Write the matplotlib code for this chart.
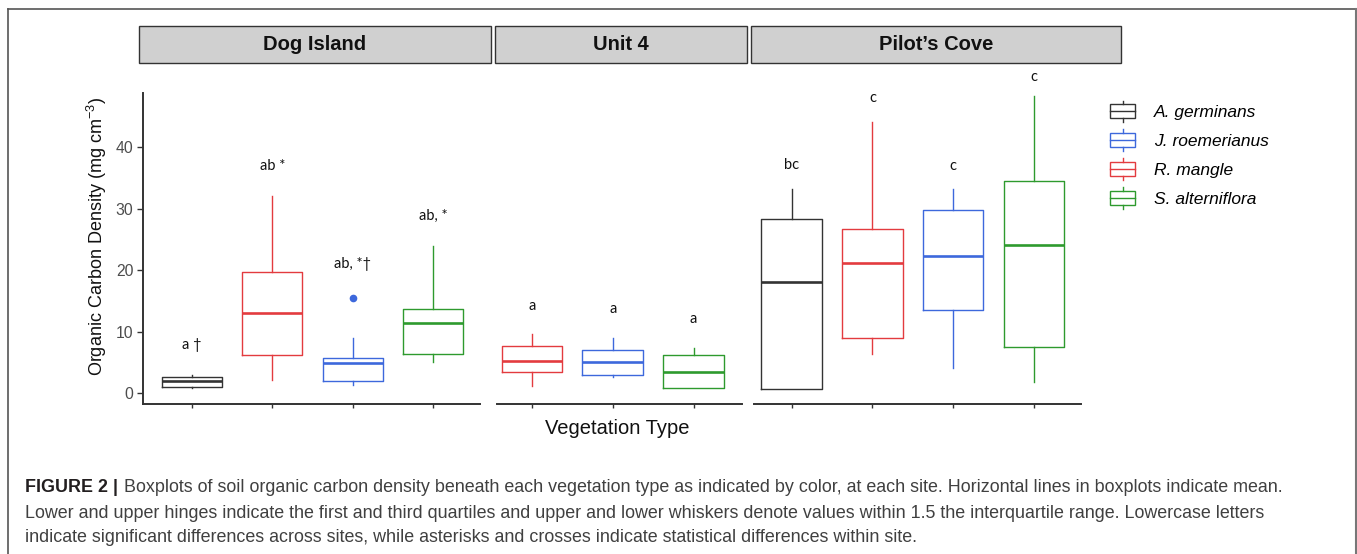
import matplotlib
matplotlib.use("Agg")
import matplotlib.pyplot as plt
from matplotlib.patches import Rectangle, Patch
from matplotlib.lines import Line2D
from matplotlib.legend_handler import HandlerBase
from matplotlib.text import Annotation

plt.rcParams["font.family"] = ["Liberation Sans", "DejaVu Sans"]
plt.rcParams["mathtext.fontset"] = "custom"
plt.rcParams["mathtext.rm"] = "Liberation Sans"
plt.rcParams["mathtext.it"] = "Liberation Sans:italic"

# ---------------- data (organic carbon density, mg cm^-3) ----------------
sites = ["Dog Island", "Unit 4", "Pilot\u2019s Cove"]
legend_species = ["A. germinans", "J. roemerianus", "R. mangle", "S. alterniflora"]
species_colors = ["#333333", "#3D68DC", "#E33B3F", "#2E9A2E"]

# Dog Island
di_species = ["A. germinans", "R. mangle", "J. roemerianus", "S. alterniflora"]
di_whislo = [0.84, 2.2, 1.38, 5.07]
di_q1 = [1.06, 6.2, 2.08, 6.42]
di_med = [1.98, 13.1, 5.0, 11.46]
di_q3 = [2.73, 19.8, 5.83, 13.7]
di_whishi = [3.0, 32.1, 8.97, 23.9]
di_fliers = [[], [], [15.5], []]
di_letters = ["a \u2020", "ab *", "ab, *\u2020", "ab, *"]
di_letter_y = [7.9, 37.0, 21.0, 28.9]

# Unit 4
u4_species = ["R. mangle", "J. roemerianus", "S. alterniflora"]
u4_whislo = [1.22, 2.63, 0.85]
u4_q1 = [3.5, 3.06, 0.85]
u4_med = [5.33, 5.12, 3.5]
u4_q3 = [7.67, 7.07, 6.21]
u4_whishi = [9.63, 8.97, 7.35]
u4_fliers = [[], [], []]
u4_letters = ["a", "a", "a"]
u4_letter_y = [14.2, 13.7, 12.1]

# Pilot's Cove
pc_species = ["A. germinans", "R. mangle", "J. roemerianus", "S. alterniflora"]
pc_whislo = [0.68, 6.42, 4.09, 1.82]
pc_q1 = [0.68, 8.97, 13.52, 7.5]
pc_med = [18.18, 21.27, 22.3, 24.2]
pc_q3 = [28.37, 26.75, 29.84, 34.6]
pc_whishi = [33.2, 44.2, 33.2, 48.37]
pc_fliers = [[], [], [], []]
pc_letters = ["bc", "c", "c", "c"]
pc_letter_y = [37.15, 48.0, 37.0, 51.4]

y_ticks = [0, 10, 20, 30, 40]

caption_head = "FIGURE 2 |"
caption_lines = [
    "Boxplots of soil organic carbon density beneath each vegetation type as indicated by color, at each site. Horizontal lines in boxplots indicate mean.",
    "Lower and upper hinges indicate the first and third quartiles and upper and lower whiskers denote values within 1.5 the interquartile range. Lowercase letters",
    "indicate significant differences across sites, while asterisks and crosses indicate statistical differences within site.",
]

# ---------------- figure layout (pixel helpers) ----------------
W, H = 1357, 554
fig = plt.figure(figsize=(W / 100, H / 100), dpi=100)
fig.patch.set_facecolor("white")


def fx(px):
    return px / W


def fy(py):
    return 1 - py / H


color_of = dict(zip(legend_species, species_colors))
AX_COL = "#333333"
Y_TOP, Y_BOT = 93, 403.5
YLIM = (-1.65, 48.85)

panels = [
    dict(x0=143, x1=480, xlim=(0.395, 4.58), species=di_species, lo=di_whislo, q1=di_q1,
         med=di_med, q3=di_q3, hi=di_whishi, fl=di_fliers, let=di_letters, ly=di_letter_y),
    dict(x0=497, x1=742, xlim=(0.567, 3.599), species=u4_species, lo=u4_whislo, q1=u4_q1,
         med=u4_med, q3=u4_q3, hi=u4_whishi, fl=u4_fliers, let=u4_letters, ly=u4_letter_y),
    dict(x0=754, x1=1081, xlim=(0.533, 4.583), species=pc_species, lo=pc_whislo, q1=pc_q1,
         med=pc_med, q3=pc_q3, hi=pc_whishi, fl=pc_fliers, let=pc_letters, ly=pc_letter_y),
]

for k, p in enumerate(panels):
    ax = fig.add_axes([fx(p["x0"]), fy(Y_BOT), fx(p["x1"]) - fx(p["x0"]), fy(Y_TOP) - fy(Y_BOT)])
    ax.set_facecolor("none")
    n = len(p["species"])
    pos = list(range(1, n + 1))
    stats = [dict(med=p["med"][i], q1=p["q1"][i], q3=p["q3"][i], whislo=p["lo"][i],
                  whishi=p["hi"][i], fliers=p["fl"][i]) for i in range(n)]
    bp = ax.bxp(stats, positions=pos, widths=0.75, showcaps=False, showfliers=True,
                boxprops=dict(lw=1.0), whiskerprops=dict(lw=1.0), medianprops=dict(lw=1.9),
                flierprops=dict(marker="o", markersize=5.5, markeredgewidth=0))
    for i, sp in enumerate(p["species"]):
        c = color_of[sp]
        bp["boxes"][i].set_color(c)
        bp["whiskers"][2 * i].set_color(c)
        bp["whiskers"][2 * i + 1].set_color(c)
        bp["medians"][i].set_color(c)
        bp["medians"][i].set_solid_capstyle("butt")
        bp["fliers"][i].set_markerfacecolor(c)
    for i in range(n):
        ax.text(pos[i], p["ly"][i], p["let"][i], ha="center", va="center", fontsize=10.5,
                family=["Lato", "DejaVu Sans"], color="#111111", clip_on=False)

    ax.set_xlim(*p["xlim"])
    ax.set_ylim(*YLIM)
    ax.set_xticks(pos)
    ax.set_xticklabels([])
    ax.tick_params(axis="x", length=3.2, width=1.0, color=AX_COL, direction="out")
    for s in ["top", "right"]:
        ax.spines[s].set_visible(False)
    ax.spines["bottom"].set_color(AX_COL)
    ax.spines["bottom"].set_linewidth(1.4)
    if k == 0:
        ax.spines["left"].set_color(AX_COL)
        ax.spines["left"].set_linewidth(1.4)
        ax.set_yticks(y_ticks)
        ax.set_yticklabels([str(v) for v in y_ticks])
        ax.tick_params(axis="y", length=4.0, width=1.0, color=AX_COL, pad=2.8,
                       labelsize=11.3, labelcolor="#4D4D4D")
    else:
        ax.spines["left"].set_visible(False)
        ax.set_yticks([])

# ---------------- strip headers ----------------
strips = [(138.5, 491), (495.5, 747), (751, 1120.5)]
for (sx0, sx1), name in zip(strips, sites):
    fig.add_artist(Rectangle((fx(sx0), fy(63.3)), fx(sx1) - fx(sx0), fy(26.5) - fy(63.3),
                             transform=fig.transFigure, facecolor="#D0D0D0",
                             edgecolor="#333333", lw=1.0))
    fig.text(fx((sx0 + sx1) / 2), fy(45), name, ha="center", va="center",
             fontsize=14.5, weight="bold", color="#111111")

# ---------------- axis titles ----------------
fig.text(fx(96.5), fy(236), "Organic Carbon Density (mg cm$^{-3}$)", rotation=90,
         ha="center", va="center", fontsize=13, color="#111111")
fig.text(fx(617), fy(434), "Vegetation Type", ha="center", va="baseline",
         fontsize=14.5, color="#111111")


# ---------------- legend with mini boxplot keys ----------------
class MiniBoxHandler(HandlerBase):
    def create_artists(self, legend, orig_handle, xdescent, ydescent, width, height,
                       fontsize, trans):
        c = orig_handle.get_edgecolor()
        x0, y0 = -xdescent, -ydescent
        lo, hi = y0 + 0.155 * height, y0 + 0.845 * height
        mid, cx = y0 + 0.5 * height, x0 + width / 2
        return [
            Rectangle((x0, lo), width, hi - lo, fill=False, ec=c, lw=1.0, transform=trans),
            Line2D([x0, x0 + width], [mid, mid], color=c, lw=1.0, transform=trans),
            Line2D([cx, cx], [y0, lo], color=c, lw=1.0, transform=trans),
            Line2D([cx, cx], [hi, y0 + height], color=c, lw=1.0, transform=trans),
        ]


handles = [Patch(facecolor="none", edgecolor=c) for c in species_colors]
fig.legend(handles, legend_species, handler_map={Patch: MiniBoxHandler()},
           loc="upper left", bbox_to_anchor=(fx(1110), fy(100.5)), frameon=False,
           borderpad=0, borderaxespad=0, handlelength=1.44, handleheight=1.5,
           handletextpad=1.1, labelspacing=0.45,
           prop=dict(family="Liberation Sans", style="italic", size=12.5))

# ---------------- caption ----------------
CAP_SIZE = 12.9
head = fig.text(fx(25), fy(492.5), caption_head, ha="left", va="baseline", fontsize=CAP_SIZE,
                weight="bold", color="#231F20")
fig.add_artist(Annotation(" " + caption_lines[0], xy=(1, 0), xycoords=head,
                          xytext=(1.0, 0), textcoords="offset points", ha="left",
                          va="bottom", fontsize=CAP_SIZE, color="#404040"))
for txt, by in zip(caption_lines[1:], [518.3, 542]):
    fig.text(fx(25), fy(by), txt, ha="left", va="baseline", fontsize=CAP_SIZE, color="#404040")

# ---------------- outer frame ----------------
frame_col = "#555555"
fig.add_artist(Line2D([fx(8), fx(1355.5)], [fy(9), fy(9)], transform=fig.transFigure,
                      color=frame_col, lw=1.2))
fig.add_artist(Line2D([fx(8), fx(8)], [fy(9), 0], transform=fig.transFigure,
                      color=frame_col, lw=1.2))
fig.add_artist(Line2D([fx(1355.5), fx(1355.5)], [fy(9), 0], transform=fig.transFigure,
                      color="#777777", lw=1.5))

fig.savefig("out.png", dpi=100)
